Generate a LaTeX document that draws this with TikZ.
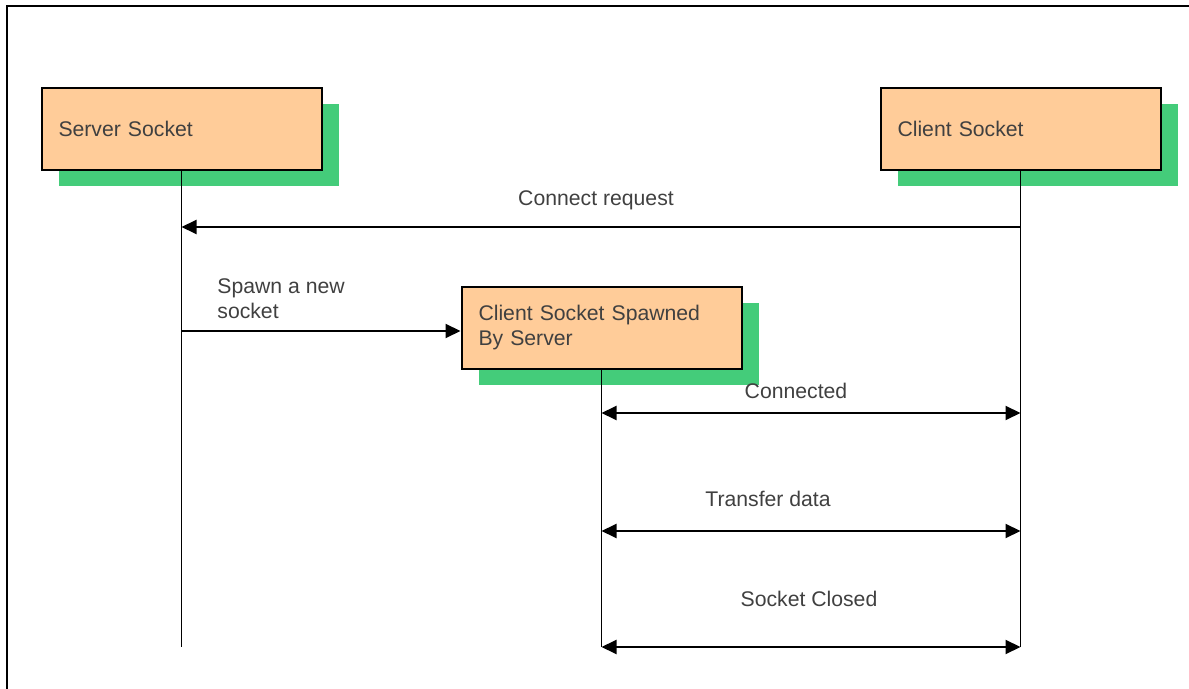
\documentclass[tikz,border=0pt]{standalone}
\usepackage{fontspec}
\setmainfont{Liberation Sans}
\usepackage{xcolor}
\usepackage{tikz}
\usetikzlibrary{arrows.meta,positioning,shadows}

\definecolor{peach}{RGB}{255,204,153}
\definecolor{shadowgreen}{RGB}{68,204,122}
\definecolor{textgray}{RGB}{64,64,64}

\begin{document}
\begin{tikzpicture}[
    x=0.5pt, y=-0.5pt,
    font=\fontsize{10.6pt}{12.5pt}\selectfont,
    box/.style={draw, line width=1pt, fill=peach, anchor=north west,
                minimum width=140pt, minimum height=41pt, text width=123pt,
                inner xsep=8.5pt, inner ysep=0pt, align=left, text=textgray,
                drop shadow={shadow xshift=8.5pt, shadow yshift=-8pt,
                             fill=shadowgreen, opacity=1}},
    lbl/.style={text=textgray, inner sep=3pt},
    life/.style={line width=0.75pt},
    msg/.style={line width=1pt, -{Triangle[length=7.5pt, width=7pt]}},
    both/.style={line width=1pt, {Triangle[length=7.5pt, width=7pt]}-{Triangle[length=7.5pt, width=7pt]}}
  ]
  \useasboundingbox (0,0) rectangle (1189,689);
  % Frame
  \draw[line width=1pt] (7,689) -- (7,6) -- (1189,6);

  % Sockets
  \node[box] (server) at (40.5,87) {Server Socket};
  \node[box] (client) at (879.5,87) {Client Socket};
  \node[box] (spawned) at (460.5,286) {Client Socket Spawned\\By Server};

  % Levels
  \coordinate (bottom) at (0,647);
  \coordinate (req) at (0,227);
  \coordinate (spawn) at (0,331);
  \coordinate (conn) at (0,413);
  \coordinate (xfer) at (0,531);

  % Lifelines
  \draw[life] (server.south) -- (server.south |- bottom);
  \draw[life] (client.south) -- (client.south |- bottom);
  \draw[life] (spawned.south) -- (spawned.south |- bottom);

  % Messages
  \draw[msg] (client.south |- req) -- (server.south |- req);
  \draw[msg] (server.south |- spawn) -- (spawned.west |- spawn);
  \draw[both] (spawned.south |- conn) -- (client.south |- conn);
  \draw[both] (spawned.south |- xfer) -- (client.south |- xfer);
  \draw[both] (spawned.south |- bottom) -- (client.south |- bottom);

  % Labels
  \node[lbl] (reqlbl) at (596,200) {Connect request};
  \node[lbl, align=left, anchor=west] (spawnlbl) at (211,299) {Spawn a new\\socket};
  \node[lbl] (connlbl) at (796,391) {Connected};
  \node[lbl] (xferlbl) at (768,499) {Transfer data};
  \node[lbl] (closelbl) at (809,599) {Socket Closed};
\end{tikzpicture}
\end{document}
